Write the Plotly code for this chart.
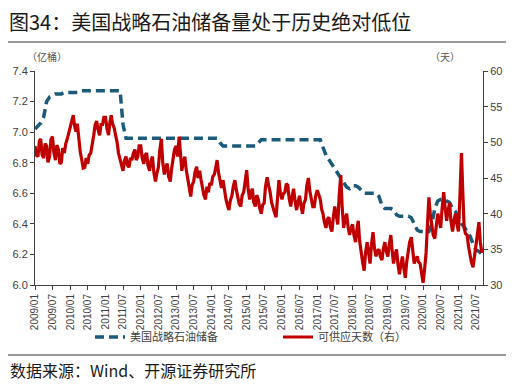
import pandas as pd
import plotly.graph_objects as go

# ---- data (2009/01 - 2021/09) ----
months = pd.date_range("2009-01-01", "2021-09-01", freq="MS")
mid_months = pd.date_range("2009-01-01", "2021-08-01", freq="MS") + pd.Timedelta(days=14)

spr_reserve = [  # 亿桶 (left axis), monthly
    7.02, 7.04, 7.06, 7.10, 7.20, 7.23, 7.24, 7.25, 7.25, 7.25, 7.26, 7.26,   # 2009
    7.26, 7.26, 7.26, 7.26, 7.27, 7.27, 7.27, 7.27, 7.27, 7.27, 7.27, 7.27,   # 2010
    7.27, 7.27, 7.27, 7.27, 7.27, 7.27, 7.05, 6.96, 6.96, 6.96, 6.96, 6.96,   # 2011
    6.96, 6.96, 6.96, 6.96, 6.96, 6.96, 6.96, 6.96, 6.96, 6.96, 6.96, 6.96,   # 2012
    6.96, 6.96, 6.96, 6.96, 6.96, 6.96, 6.96, 6.96, 6.96, 6.96, 6.96, 6.96,   # 2013
    6.96, 6.96, 6.96, 6.93, 6.91, 6.91, 6.91, 6.91, 6.91, 6.91, 6.91, 6.91,   # 2014
    6.91, 6.91, 6.91, 6.91, 6.93, 6.95, 6.95, 6.95, 6.95, 6.95, 6.95, 6.95,   # 2015
    6.95, 6.95, 6.95, 6.95, 6.95, 6.95, 6.95, 6.95, 6.95, 6.95, 6.95, 6.95,   # 2016
    6.95, 6.95, 6.90, 6.85, 6.82, 6.79, 6.76, 6.73, 6.70, 6.67, 6.64, 6.63,   # 2017
    6.65, 6.65, 6.64, 6.62, 6.60, 6.60, 6.60, 6.60, 6.60, 6.58, 6.52, 6.50,   # 2018
    6.50, 6.50, 6.49, 6.46, 6.45, 6.45, 6.45, 6.45, 6.44, 6.40, 6.36, 6.35,   # 2019
    6.35, 6.35, 6.35, 6.40, 6.50, 6.55, 6.56, 6.56, 6.55, 6.54, 6.50, 6.48,   # 2020
    6.45, 6.40, 6.38, 6.35, 6.32, 6.27, 6.23, 6.22, 6.20,                     # 2021
]

supply_days = [  # 天 (right axis), start of month
    49.5, 48.0, 50.5, 47.8, 49.5, 48.0, 50.8, 47.5, 49.0, 47.2, 48.5, 50.5,   # 2009
    52.0, 53.8, 51.5, 50.0, 47.5, 46.5, 47.0, 48.5, 51.0, 53.0, 51.0, 52.5,   # 2010
    53.5, 51.0, 53.8, 52.0, 50.0, 47.5, 46.0, 48.0, 46.5, 47.5, 49.0, 48.0,   # 2011
    49.5, 47.0, 48.5, 46.0, 48.0, 44.5, 46.5, 50.5, 45.5, 47.0, 44.5, 47.5,   # 2012
    49.5, 50.8, 46.0, 48.0, 45.0, 42.4, 44.5, 46.6, 46.0, 43.5, 42.0, 43.0,   # 2013
    44.0, 45.5, 47.5, 44.5, 44.7, 42.0, 40.5, 42.5, 44.7, 42.5, 41.0, 43.0,   # 2014
    46.1, 42.0, 43.5, 41.0, 42.0, 40.0, 41.5, 45.1, 43.0, 41.0, 39.5, 44.7,   # 2015
    42.0, 43.0, 44.0, 41.0, 43.5, 40.5, 42.5, 40.0, 42.0, 45.0, 42.0, 41.0,   # 2016
    43.3, 42.0, 40.0, 38.0, 39.5, 37.5, 41.0, 38.5, 45.4, 38.0, 40.0, 37.0,   # 2017
    38.5, 36.0, 39.0, 34.0, 32.0, 36.0, 33.0, 37.4, 34.0, 35.0, 33.5, 36.0,   # 2018
    34.0, 37.0, 33.0, 35.0, 31.5, 34.0, 31.0, 35.0, 36.7, 33.0, 34.0, 33.0,   # 2019
    30.3, 34.5, 42.3, 38.0, 36.5, 40.0, 38.0, 43.0, 39.0, 41.5, 37.5, 40.0,   # 2020
    37.5, 48.5, 38.0, 37.0, 34.0, 32.5, 35.0, 38.8, 34.5,                     # 2021
]

supply_days_mid = [  # 天 (right axis), mid-month readings
    48.2, 50.2, 48.3, 49.8, 47.2, 50.4, 48.6, 49.6, 47.0, 49.2, 49.8, 51.3,   # 2009
    53.2, 52.3, 52.6, 48.6, 46.4, 47.8, 48.2, 50.0, 52.4, 51.8, 52.5, 53.5,   # 2010
    52.0, 52.8, 52.6, 51.0, 48.5, 46.6, 47.4, 46.8, 47.8, 48.4, 47.5, 49.5,   # 2011
    47.8, 48.2, 46.8, 47.4, 45.8, 45.6, 48.8, 47.2, 46.6, 45.2, 46.3, 49.0,   # 2012
    48.0, 47.5, 47.2, 46.2, 43.4, 44.0, 45.8, 45.0, 44.8, 42.6, 43.8, 44.3,   # 2013
    45.2, 46.8, 45.8, 43.6, 43.2, 41.2, 41.8, 43.8, 43.4, 41.4, 42.6, 44.8,   # 2014
    43.6, 43.0, 41.6, 42.6, 40.8, 41.2, 43.8, 44.0, 41.6, 40.2, 42.6, 43.0,   # 2015
    42.8, 44.2, 42.2, 42.4, 41.8, 41.6, 41.2, 41.4, 44.0, 43.2, 41.0, 42.5,   # 2016
    42.5, 40.6, 38.8, 39.2, 38.2, 39.4, 39.8, 42.5, 41.0, 39.2, 38.2, 38.0,   # 2017
    37.0, 37.8, 36.2, 33.2, 34.5, 34.2, 35.6, 35.2, 34.8, 34.0, 35.0, 34.8,   # 2018
    35.6, 34.8, 34.2, 33.0, 32.8, 32.4, 33.2, 36.0, 34.6, 33.6, 33.2, 31.8,   # 2019
    32.0, 38.5, 40.0, 37.0, 38.5, 39.2, 40.6, 41.0, 40.4, 39.0, 39.0, 38.6,   # 2020
    42.0, 43.0, 37.2, 35.4, 33.2, 33.8, 37.0, 36.0,                           # 2021
]

tick_dates = pd.date_range("2009-01-01", "2021-07-01", freq="6MS")
tick_labels = [d.strftime("%Y/%m") for d in tick_dates]

days_df = pd.concat([
    pd.DataFrame({"date": months, "days": supply_days}),
    pd.DataFrame({"date": mid_months, "days": supply_days_mid}),
]).sort_values("date")

BLUE = "#1C5A7A"
RED = "#C00000"
AX = "#404040"
FONT = "Noto Sans CJK SC"

fig = go.Figure()
fig.add_trace(go.Scatter(
    x=months, y=spr_reserve, name="美国战略石油储备", mode="lines",
    line=dict(color=BLUE, width=3.5, dash="9px,5px"), yaxis="y"))
fig.add_trace(go.Scatter(
    x=days_df["date"], y=days_df["days"], name="可供应天数（右）", mode="lines",
    line=dict(color=RED, width=3.2), yaxis="y2"))

# page has an 8px body margin: the figure sits at page (8, 8)
OFF = 8
FW, FH = 514 - OFF, 384 - OFF
L, R, T, B = 35, 483, 71, 285          # plot area in page pixels
W, H = R - L, B - T
def px(x): return (x - L) / W
def py(y): return (B - y) / H

fig.update_layout(
    width=FW, height=FH,
    margin=dict(l=L - OFF, r=514 - R, t=T - OFF, b=384 - B, autoexpand=False),
    paper_bgcolor="white", plot_bgcolor="white",
    font=dict(family=FONT, color=AX, size=11),
    showlegend=True,
    legend=dict(orientation="h", x=px(90), y=py(337), xanchor="left", yanchor="middle",
                entrywidth=143, entrywidthmode="pixels",
                font=dict(size=11, color="#404040"), bgcolor="rgba(0,0,0,0)",
                tracegroupgap=0, itemwidth=30),
    xaxis=dict(type="date", range=["2009-01-01", "2021-09-12"], automargin=False,
               tickvals=tick_dates, ticktext=tick_labels, tickangle=-90,
               tickfont=dict(size=10, color=AX, family="Liberation Sans"),
               showgrid=False, zeroline=False, showline=True, linecolor=AX, linewidth=1,
               ticks="outside", ticklen=4, tickcolor=AX),
    yaxis=dict(range=[6.0, 7.4], dtick=0.2, tickformat=".1f", automargin=False,
               tickfont=dict(size=11, color=AX, family="Liberation Sans"),
               showgrid=False, zeroline=False, showline=True, linecolor=AX, linewidth=1,
               ticks="outside", ticklen=4, tickcolor=AX),
    yaxis2=dict(range=[30, 60], dtick=5, overlaying="y", side="right", automargin=False,
                tickfont=dict(size=11, color=AX, family="Liberation Sans"),
                showgrid=False, zeroline=False, showline=True, linecolor=AX, linewidth=1,
                ticks="outside", ticklen=4, tickcolor=AX),
)

fig.add_annotation(text="图34：美国战略石油储备量处于历史绝对低位", xref="paper", yref="paper",
                   x=px(8), y=py(22), xanchor="left", yanchor="middle", showarrow=False,
                   borderpad=0, font=dict(size=20, color="#1a1a1a", family=FONT))
fig.add_annotation(text="（亿桶）", xref="paper", yref="paper", x=px(25), y=py(56),
                   xanchor="left", yanchor="middle", showarrow=False,
                   font=dict(size=10, color="#555555", family=FONT))
fig.add_annotation(text="（天）", xref="paper", yref="paper", x=px(428), y=py(56),
                   xanchor="left", yanchor="middle", showarrow=False,
                   font=dict(size=10, color="#555555", family=FONT))
fig.add_annotation(text="数据来源：Wind、开源证券研究所", xref="paper", yref="paper",
                   x=px(8), y=py(370), xanchor="left", yanchor="middle", showarrow=False,
                   font=dict(size=16, color="#1a1a1a", family=FONT))

for yy in (42, 355):
    fig.add_shape(type="line", xref="paper", yref="paper", x0=px(8), x1=px(514),
                  y0=py(yy), y1=py(yy), line=dict(color="#333333", width=1))

fig.write_html("out.html")
